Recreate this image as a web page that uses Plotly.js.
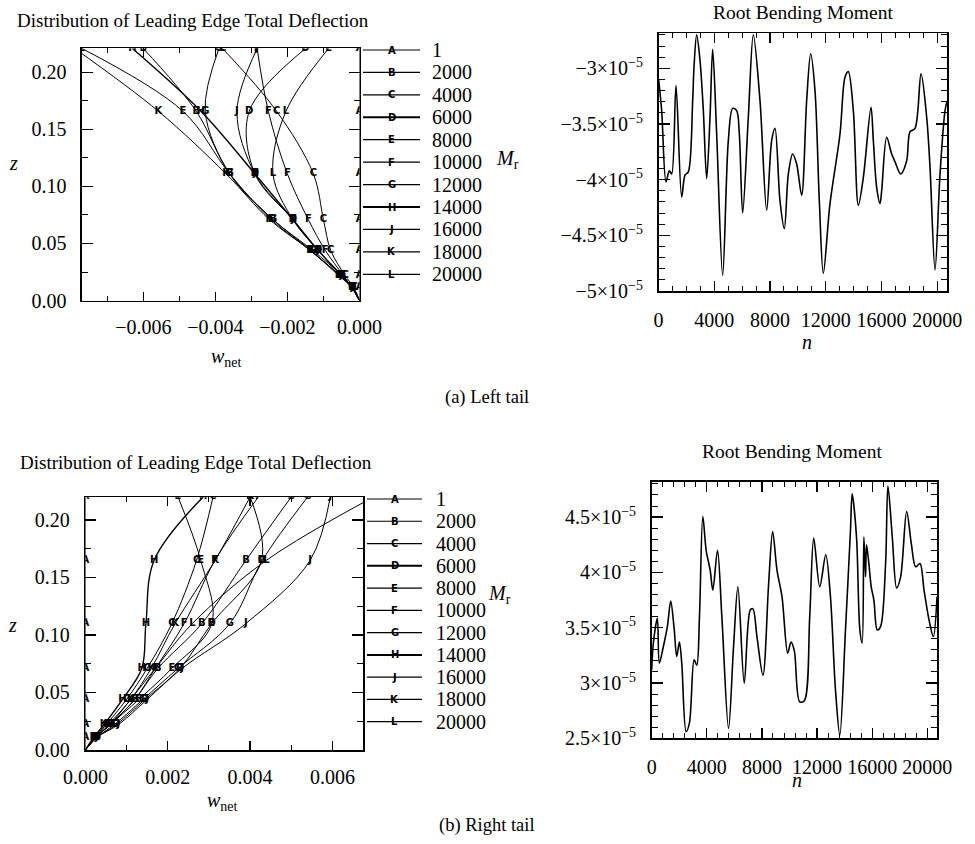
<!DOCTYPE html>
<html><head><meta charset="utf-8">
<script src="https://cdn.plot.ly/plotly-3.0.1.min.js"></script>
<style>html,body{margin:0;padding:0;background:#fff}#chart{width:975px;height:844px}</style>
</head><body><div id="chart"></div>
<script>
// ---------- DATA ----------
const seriesNames   = ['1','2000','4000','6000','8000','10000','12000','14000','16000','18000','20000'];
const seriesLetters = ['A','B','C','D','E','F','G','H','J','K','L'];

// (a) Left tail: leading edge deflection w_net at span stations z
const zLeftTail = [0, 0.011, 0.022, 0.044, 0.071, 0.111, 0.166, 0.221];
const wLeftA = [0, 0, 0, 0, 0, 0, 0, 0];
const wLeftB = [0, -0.0002, -0.00055, -0.00135, -0.0024, -0.0036, -0.00453, -0.0060];
const wLeftC = [0, -0.00015, -0.0004, -0.0008, -0.001, -0.00128, -0.0023, -0.0038];
const wLeftD = [0, -0.0002, -0.0005, -0.00115, -0.00185, -0.0029, -0.00306, -0.0015];
const wLeftE = [0, -0.0002, -0.00055, -0.00137, -0.00245, -0.0036, -0.0049, -0.0077];
const wLeftF = [0, -0.0002, -0.00045, -0.00095, -0.00142, -0.002, -0.00253, -0.00284];
const wLeftG = [0, -0.0002, -0.0005, -0.0013, -0.0024, -0.0036, -0.00428, -0.0039];
const wLeftH = [0, -0.0002, -0.0005, -0.00115, -0.00185, -0.0029, -0.0044, -0.0063];
const wLeftJ = [0, -0.0002, -0.0005, -0.00115, -0.00185, -0.0029, -0.0034, -0.00284];
const wLeftK = [0, -0.0002, -0.00058, -0.00137, -0.0025, -0.0037, -0.00558, -0.0079];
const wLeftL = [0, -0.0002, -0.0005, -0.00115, -0.00185, -0.0024, -0.00204, -0.00086];

// (b) Right tail
const zRightTail = [0, 0.011, 0.022, 0.044, 0.071, 0.110, 0.165, 0.220];
const wRightA = [0, 0, 0, 0, 0, 0, 0, 0];
const wRightB = [0, 0.00025, 0.0006, 0.0012, 0.00176, 0.00283, 0.0039, 0.0050];
const wRightC = [0, 0.00022, 0.0005, 0.001, 0.0015, 0.0021, 0.0027, 0.0031];
const wRightD = [0, 0.00028, 0.00075, 0.00145, 0.0023, 0.00307, 0.00428, 0.0040];
const wRightE = [0, 0.00025, 0.0006, 0.0013, 0.0021, 0.00307, 0.0028, 0.00225];
const wRightF = [0, 0.00025, 0.0006, 0.0012, 0.0017, 0.0024, 0.00315, 0.0042];
const wRightG = [0, 0.00028, 0.0007, 0.0014, 0.00225, 0.00351, 0.0043, 0.0054];
const wRightH = [0, 0.0002, 0.00045, 0.0009, 0.00137, 0.00147, 0.00167, 0.00286];
const wRightJ = [0, 0.00028, 0.0008, 0.0015, 0.00235, 0.0039, 0.00546, 0.00595];
const wRightK = [0, 0.00022, 0.00055, 0.0011, 0.0016, 0.00218, 0.00315, 0.0040];
const wRightL = [0, 0.00025, 0.0006, 0.0011, 0.0017, 0.0026, 0.0044, 0.0070];

// Root bending moment histories
const nLeftTail = [0,220,531,770,938,1249,1656,1895,2135,2446,2541,2733,2972,3211,3450,3690,3881,4168,4598,5004,5315,5602,5794,6033,6440,6799,7277,7756,8115,8354,8713,9024,9311,9622,9909,10268,10627,10914,11225,11536,11823,12302,13020,13379,13618,13977,14336,14695,15245,15413,15652,15891,16011,16370,16729,16969,17375,17806,18045,18404,18835,19242,19481,19840,20199,20558,20700];
const mLeftTail = [-3.10e-5,-3.38e-5,-4.02e-5,-3.92e-5,-3.95e-5,-3.155e-5,-4.155e-5,-3.96e-5,-3.93e-5,-3.29e-5,-2.99e-5,-2.70e-5,-2.93e-5,-3.38e-5,-3.99e-5,-3.44e-5,-2.83e-5,-3.59e-5,-4.86e-5,-3.65e-5,-3.36e-5,-3.38e-5,-3.59e-5,-4.30e-5,-3.44e-5,-2.70e-5,-3.29e-5,-4.275e-5,-3.65e-5,-3.54e-5,-4.19e-5,-4.44e-5,-3.95e-5,-3.77e-5,-3.86e-5,-4.14e-5,-3.29e-5,-2.87e-5,-3.20e-5,-4.19e-5,-4.84e-5,-4.215e-5,-3.59e-5,-3.08e-5,-3.03e-5,-3.38e-5,-4.23e-5,-3.98e-5,-3.35e-5,-3.65e-5,-4.07e-5,-4.215e-5,-4.10e-5,-3.62e-5,-3.77e-5,-3.84e-5,-3.95e-5,-3.83e-5,-3.57e-5,-3.54e-5,-3.05e-5,-3.44e-5,-3.89e-5,-4.81e-5,-3.95e-5,-3.38e-5,-3.30e-5];
const nRightTail = [0,119,409,555,846,1137,1380,1622,1816,2010,2180,2496,2739,3078,3272,3466,3709,3951,4242,4436,4775,5090,5575,5939,6254,6715,7151,7345,7636,8072,8485,8775,9090,9454,9866,10108,10350,10738,11077,11465,11756,12193,12629,12969,13333,13648,14060,14424,14545,14860,15103,15272,15394,15515,15588,15757,15927,16121,16364,16606,16970,17140,17455,17770,18061,18497,18837,19152,19467,19758,20121,20436,20700];
const mRightTail = [3.12e-5,3.36e-5,3.586e-5,3.18e-5,3.33e-5,3.51e-5,3.74e-5,3.50e-5,3.24e-5,3.37e-5,3.18e-5,2.56e-5,2.64e-5,3.21e-5,3.16e-5,3.60e-5,4.505e-5,4.20e-5,4.02e-5,3.84e-5,4.20e-5,3.60e-5,2.59e-5,3.33e-5,3.87e-5,2.998e-5,3.66e-5,3.67e-5,3.42e-5,3.07e-5,3.90e-5,4.37e-5,4.02e-5,3.78e-5,3.27e-5,3.37e-5,3.29e-5,2.83e-5,2.84e-5,3.60e-5,4.31e-5,3.87e-5,4.16e-5,3.78e-5,2.94e-5,2.53e-5,3.48e-5,4.385e-5,4.71e-5,4.32e-5,3.48e-5,3.36e-5,4.32e-5,3.96e-5,4.25e-5,4.08e-5,3.87e-5,3.75e-5,3.48e-5,3.51e-5,4.08e-5,4.78e-5,4.32e-5,3.86e-5,3.96e-5,4.55e-5,4.26e-5,4.05e-5,4.08e-5,3.84e-5,3.57e-5,3.42e-5,3.78e-5];

// tick labels
const mTickValsLeft  = [-5e-5,-4.5e-5,-4e-5,-3.5e-5,-3e-5];
const mTickTextLeft  = ['−5×10<sup>−5</sup>','−4.5×10<sup>−5</sup>','−4×10<sup>−5</sup>','−3.5×10<sup>−5</sup>','−3×10<sup>−5</sup>'];
const mTickValsRight = [2.5e-5,3e-5,3.5e-5,4e-5,4.5e-5];
const mTickTextRight = ['2.5×10<sup>−5</sup>','3×10<sup>−5</sup>','3.5×10<sup>−5</sup>','4×10<sup>−5</sup>','4.5×10<sup>−5</sup>'];

// ---------- CHART ----------
const wLeft  = [wLeftA,wLeftB,wLeftC,wLeftD,wLeftE,wLeftF,wLeftG,wLeftH,wLeftJ,wLeftK,wLeftL];
const wRight = [wRightA,wRightB,wRightC,wRightD,wRightE,wRightF,wRightG,wRightH,wRightJ,wRightK,wRightL];
const W = 975, H = 844;
const px = v => v / W, py = v => 1 - v / H;
const SERIF = 'Liberation Serif';
const LETTERFONT = {family:'DejaVu Sans', size:10, color:'black', weight:'bold'};
const plotLineW = i => (seriesLetters[i] === 'H' ? 1.4 : 1);
const legLineW  = i => (seriesLetters[i] === 'H' || seriesLetters[i] === 'D' ? 2 : 1.2);
const letterAt = (z, i) => (z === 0 ? '' : seriesLetters[i]);

const traces = [];
seriesNames.forEach((nm, i) => {
  traces.push({x: wLeft[i], y: zLeftTail, xaxis:'x', yaxis:'y', mode:'lines+text', type:'scatter',
    text: zLeftTail.map(z => letterAt(z, i)), textposition:'middle center', textfont: LETTERFONT,
    line:{color:'black', width:plotLineW(i), shape:'spline', smoothing:1}, name:nm, hoverinfo:'skip'});
  traces.push({x: wRight[i], y: zRightTail, xaxis:'x3', yaxis:'y3', mode:'lines+text', type:'scatter',
    text: zRightTail.map(z => letterAt(z, i)), textposition:'middle center', textfont: LETTERFONT,
    line:{color:'black', width:plotLineW(i), shape:'spline', smoothing:1}, name:nm, hoverinfo:'skip'});
});
traces.push({x:nLeftTail, y:mLeftTail, xaxis:'x2', yaxis:'y2', mode:'lines', type:'scatter',
  line:{color:'black', width:1.6, shape:'spline', smoothing:0.9}, hoverinfo:'skip'});
traces.push({x:nRightTail, y:mRightTail, xaxis:'x4', yaxis:'y4', mode:'lines', type:'scatter',
  line:{color:'black', width:1.6, shape:'spline', smoothing:0.9}, hoverinfo:'skip'});

function ax(extra, majorLen) {
  return Object.assign({
    showline:true, linecolor:'black', linewidth:1.6, mirror:'allticks',
    ticks:'inside', ticklen:majorLen, tickwidth:1.3, tickcolor:'black',
    showgrid:false, zeroline:false, fixedrange:true,
    tickfont:{family:SERIF, size:20, color:'black'}
  }, extra);
}
const minorT = (len, d) => ({ticks:'inside', ticklen:len, tickwidth:1, tickcolor:'black', tickmode:'linear', dtick:d, tick0:0, showgrid:false});

const layout = {
  width:W, height:H, margin:{l:0,r:0,t:0,b:0},
  paper_bgcolor:'white', plot_bgcolor:'white', showlegend:false,
  font:{family:SERIF, size:20, color:'black'},
  xaxis: ax({domain:[px(82),px(359.5)], range:[-0.0077,0], anchor:'y', tickmode:'linear', tick0:0, dtick:0.002, tickformat:'.3f', ticklabelstandoff:8, minor:minorT(5, 0.001)}, 9),
  yaxis: ax({domain:[py(300.5),py(48.3)], range:[0,0.2212], anchor:'x', tickmode:'linear', tick0:0, dtick:0.05, tickformat:'.2f', ticklabelstandoff:10, minor:minorT(6, 0.025)}, 11),
  xaxis2: ax({domain:[px(658.6),px(947)], range:[0,20700], anchor:'y2', tickmode:'linear', tick0:0, dtick:4000, tickformat:'d', ticklabelstandoff:10, minor:minorT(5, 1000)}, 10),
  yaxis2: ax({domain:[py(291),py(33.3)], range:[-5e-5,-2.686e-5], anchor:'x2', tickmode:'array', tickvals:mTickValsLeft, ticktext:mTickTextLeft, ticklabelstandoff:10, minor:minorT(6, 1e-6)}, 11),
  xaxis3: ax({domain:[px(85.4),px(363.3)], range:[0,0.00675], anchor:'y3', tickmode:'linear', tick0:0, dtick:0.002, tickformat:'.3f', ticklabelstandoff:8, minor:minorT(5, 0.001)}, 9),
  yaxis3: ax({domain:[py(750),py(497.3)], range:[0,0.2197], anchor:'x3', tickmode:'linear', tick0:0, dtick:0.05, tickformat:'.2f', ticklabelstandoff:10, minor:minorT(6, 0.025)}, 11),
  xaxis4: ax({domain:[px(651.7),px(937)], range:[0,20700], anchor:'y4', tickmode:'linear', tick0:0, dtick:4000, tickformat:'d', ticklabelstandoff:10, minor:minorT(5, 800)}, 10),
  yaxis4: ax({domain:[py(738.3),py(481.7)], range:[2.5e-5,4.82e-5], anchor:'x4', tickmode:'array', tickvals:mTickValsRight, ticktext:mTickTextRight, ticklabelstandoff:10, minor:minorT(6, 1e-6)}, 11),
  shapes: [], annotations: []
};

function note(text, x, y, size, xanchor) {
  layout.annotations.push({text, x:px(x), y:py(y), xref:'paper', yref:'paper', showarrow:false,
    xanchor:xanchor || 'center', yanchor:'middle', font:{family:SERIF, size:size, color:'black'}});
}
note('Distribution of Leading Edge Total Deflection', 193, 21, 19);
note('Distribution of Leading Edge Total Deflection', 196, 462, 19);
note('Root Bending Moment', 803, 13, 19.5);
note('Root Bending Moment', 792, 451, 19.5);
note('<i>z</i>', 13, 163, 20);
note('<i>z</i>', 12, 625, 20);
note('<i>w</i><sub>net</sub>', 226, 357, 20);
note('<i>w</i><sub>net</sub>', 222, 801, 20);
note('<i>M</i><sub>r</sub>', 507, 160, 20);
note('<i>M</i><sub>r</sub>', 500, 594, 20);
note('<i>n</i>', 807, 342, 20);
note('<i>n</i>', 797, 780, 20);
note('(a) Left tail', 487, 398, 18.5);
note('(b) Right tail', 487, 825, 18.5);

// legends (one block beside each deflection plot)
function legendBlock(x0, x1, xLabel, yTop, step) {
  seriesNames.forEach((nm, i) => {
    const yy = yTop + i * step;
    layout.shapes.push({type:'line', xref:'paper', yref:'paper', x0:px(x0), x1:px(x1), y0:py(yy), y1:py(yy),
      line:{color:'black', width:legLineW(i)}});
    layout.annotations.push({text:seriesLetters[i], x:px((x0 + x1) / 2), y:py(yy), xref:'paper', yref:'paper',
      showarrow:false, xanchor:'center', yanchor:'middle', font:LETTERFONT});
    layout.annotations.push({text:nm, x:px(xLabel), y:py(yy), xref:'paper', yref:'paper',
      showarrow:false, xanchor:'left', yanchor:'middle', font:{family:SERIF, size:20, color:'black'}});
  });
}
legendBlock(363, 420, 430, 50, 22.43);
legendBlock(367, 422, 434, 499, 22.27);

Plotly.newPlot('chart', traces, layout, {staticPlot:true, displayModeBar:false});
</script></body></html>
